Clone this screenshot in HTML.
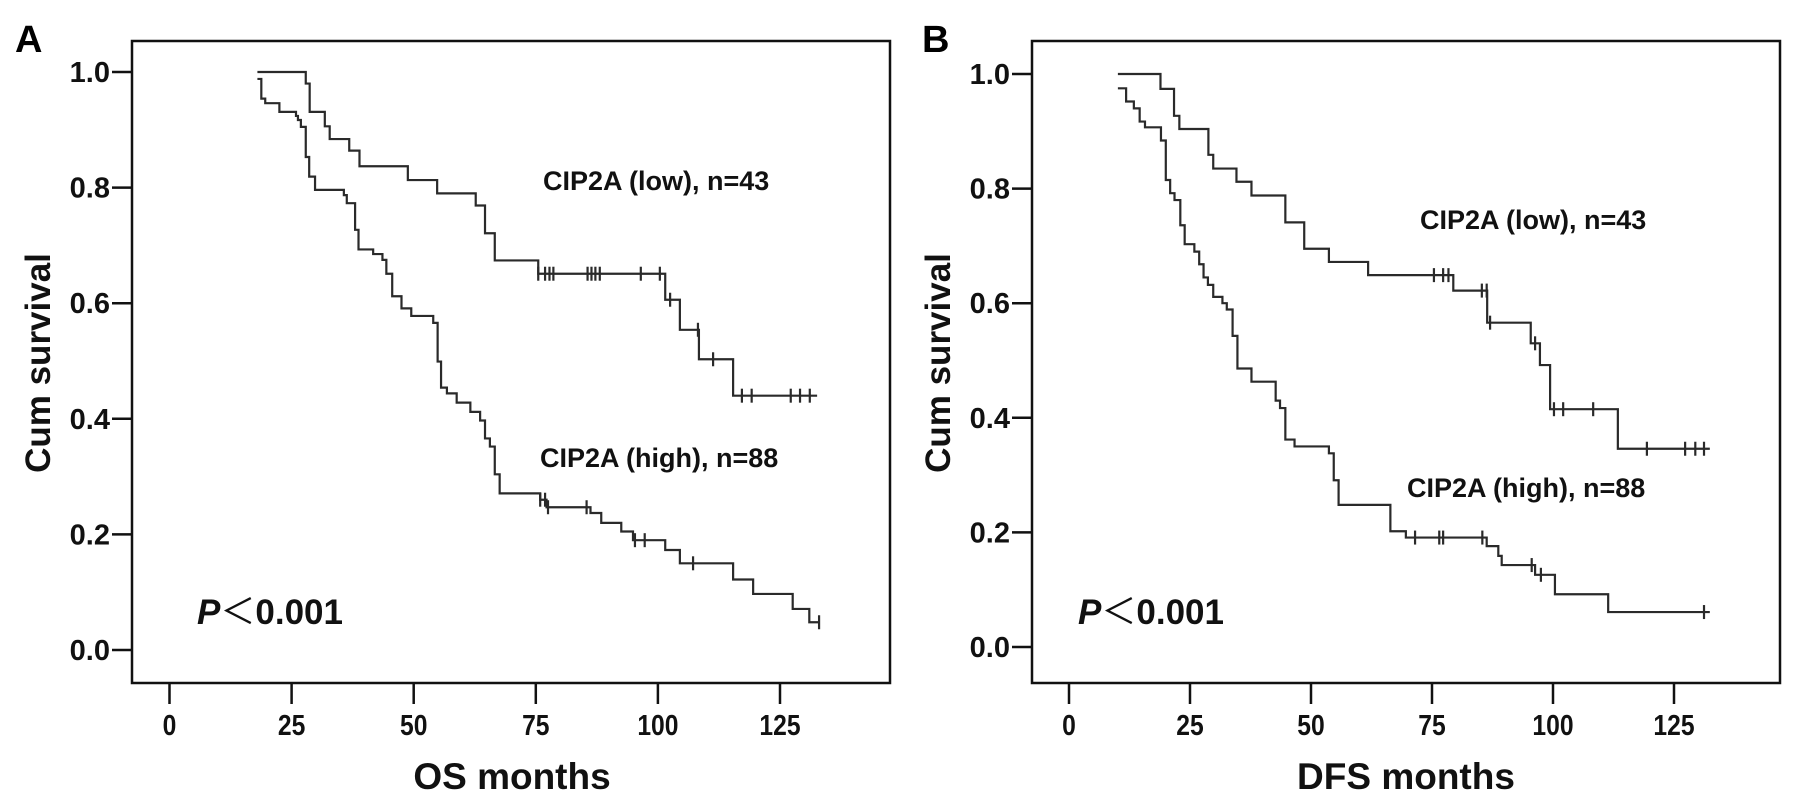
<!DOCTYPE html>
<html><head><meta charset="utf-8"><style>
html,body{margin:0;padding:0;background:#fff;}
svg{display:block;font-family:"Liberation Sans","Noto Sans CJK SC",sans-serif;font-weight:bold;}
</style></head><body>
<svg id="chart" width="1795" height="800" viewBox="0 0 1795 800" xmlns="http://www.w3.org/2000/svg">
<rect x="0" y="0" width="1795" height="800" fill="#fff"/>
<g id="panelA"></g>
<g id="panelB"></g>
</svg>
<script>
const xTicks = [0, 25, 50, 75, 100, 125];
const yTicks = [0.0, 0.2, 0.4, 0.6, 0.8, 1.0];
const yTickLabels = ["0.0", "0.2", "0.4", "0.6", "0.8", "1.0"];

const aLowTimes = [18, 27.9, 28.7, 31.8, 32.8, 36.8, 38.9, 48.8, 54.8, 62.7, 64.6, 66.6, 75.5, 101.5, 104.5, 108.4, 115.4];
const aLowSurv = [1, .980, .931, .906, .884, .864, .837, .813, .790, .769, .721, .674, .651, .606, .554, .503, .44];
const aLowCensor = [75.5, 76.9, 77.8, 78.6, 85.6, 86.4, 87.2, 88.1, 96.5, 100.4, 102.5, 108.2, 111.3, 117.2, 119.2, 127.2, 129.1, 131.1];
const aLowEnd = 132.6;

const aHighTimes = [18, 18.8, 19.6, 22.5, 25.9, 26.3, 26.9, 27.9, 28.6, 29.8, 35.7, 36.3, 38, 38.7, 41.7, 43.6, 44.4, 45.6, 47.5, 49.5, 54, 54.9, 55.6, 56.8, 58.8, 61.6, 63.6, 64.6, 65.6, 66.6, 67.6, 75.9, 77.2, 86.2, 88.4, 92.5, 94.9, 101.5, 104.5, 115.4, 119.5, 127.6, 131];
const aHighSurv = [.988, .954, .946, .931, .924, .917, .905, .853, .819, .796, .787, .773, .727, .693, .685, .675, .651, .612, .591, .578, .566, .499, .454, .444, .428, .412, .397, .366, .352, .304, .271, .260, .247, .237, .220, .205, .190, .173, .150, .122, .097, .071, .048];
const aHighCensor = [75.9, 76.9, 77.5, 85.4, 95.3, 97.3, 107.2, 133];
const aHighEnd = 133;

const bLowTimes = [10.1, 18.9, 21.7, 22.8, 28.8, 29.8, 34.6, 37.7, 44.7, 48.6, 53.7, 61.8, 79.4, 86.4, 95.4, 97.3, 99.4, 113.4];
const bLowSurv = [1, .974, .927, .904, .859, .835, .812, .788, .741, .695, .672, .649, .622, .566, .530, .492, .415, .346];
const bLowCensor = [75.4, 77.3, 78.4, 85.3, 86.3, 87, 96.3, 100.2, 102.1, 108.3, 119.4, 127.3, 129.4, 131.2];
const bLowEnd = 132.4;

const bHighTimes = [10.1, 11.8, 13.4, 14.6, 15.7, 19.0, 20.0, 20.9, 21.8, 23.0, 23.9, 25.9, 26.9, 27.8, 28.7, 29.8, 31.7, 32.6, 33.8, 34.8, 37.7, 42.7, 43.6, 44.7, 46.6, 53.7, 54.7, 55.7, 66.4, 69.6, 86.3, 88.7, 89.4, 96.3, 100.4, 111.4];
const bHighSurv = [.975, .952, .940, .917, .907, .884, .815, .792, .780, .736, .703, .690, .668, .645, .632, .611, .600, .589, .543, .486, .463, .430, .417, .362, .350, .338, .291, .248, .202, .191, .176, .159, .143, .126, .092, .061];
const bHighCensor = [71.5, 76.5, 77.3, 85.4, 95.6, 97.5, 131.2];
const bHighEnd = 132.4;

const NS = "http://www.w3.org/2000/svg";
function mk(parent, tag, attrs, text) {
  const e = document.createElementNS(NS, tag);
  for (const k in attrs) e.setAttribute(k, attrs[k]);
  if (text !== undefined) e.textContent = text;
  parent.appendChild(e);
  return e;
}
function survAt(times, surv, t) {
  let s = surv[0];
  for (let i = 0; i < times.length; i++) if (times[i] <= t) s = surv[i];
  return s;
}

function drawPanel(g, cfg) {
  const X = m => cfg.x0 + m * cfg.pxPerMonth;
  const Y = s => cfg.y0 - s * (cfg.y0 - cfg.y1);
  const box = mk(g, "rect", {x: cfg.left, y: cfg.top, width: cfg.right - cfg.left, height: cfg.bottom - cfg.top, fill: "none", stroke: "#111", "stroke-width": 2.5});
  
  
  const letter = mk(g, "text", {x: cfg.letterX, y: 52, "font-size": 38, fill: "#000"}, cfg.letter);
  
  
  yTicks.forEach((v, i) => {
    const tk = mk(g, "line", {x1: cfg.left - 20, x2: cfg.left, y1: Y(v), y2: Y(v), stroke: "#111", "stroke-width": 2.5});
    
    
    const lb = mk(g, "text", {x: cfg.left - 22, y: Y(v) + 10, "font-size": 29, "text-anchor": "end", fill: "#111"}, yTickLabels[i]);
    
    
  });
  xTicks.forEach(v => {
    const tk = mk(g, "line", {x1: X(v), x2: X(v), y1: cfg.bottom, y2: cfg.bottom + 21, stroke: "#111", "stroke-width": 2.5});
    
    
    const lb = mk(g, "text", {x: X(v), y: 735, "font-size": 29, "text-anchor": "middle", fill: "#111", transform: `translate(${X(v)},0) scale(0.85,1) translate(${-X(v)},0)`}, String(v));
    
    
  });
  const yt = mk(g, "text", {x: 0, y: 0, "font-size": 35, "text-anchor": "middle", fill: "#111", transform: `translate(${cfg.left - 82},363) rotate(-90)`}, "Cum survival");
  
  
  const xt = mk(g, "text", {x: cfg.xTitleX, y: 789, "font-size": 37, "text-anchor": "middle", fill: "#111", "xml:space": "preserve"}, cfg.xTitle);
  
  

  cfg.series.forEach(sr => {
    let d = `M${X(sr.times[0])},${Y(sr.surv[0])}`;
    for (let i = 1; i < sr.times.length; i++) d += ` H${X(sr.times[i])} V${Y(sr.surv[i])}`;
    d += ` H${X(sr.end)}`;
    const p = mk(g, "path", {d: d, fill: "none", stroke: "#2a2a2a", "stroke-width": 2.2});
    
    
    sr.censor.forEach(t => {
      const s = survAt(sr.times, sr.surv, t);
      const c = mk(g, "line", {x1: X(t), x2: X(t), y1: Y(s) - 7, y2: Y(s) + 7, stroke: "#2a2a2a", "stroke-width": 2.2});
      
      
    });
  });
  cfg.labels.forEach(l => {
    const t = mk(g, "text", {x: l.x, y: l.y, "font-size": 27, fill: "#111"}, l.text);
    
    
  });
  const pt = mk(g, "text", {x: cfg.pX, y: 624, "font-size": 35, fill: "#111"});
  
  
  mk(pt, "tspan", {"font-style": "italic"}, "P");
  mk(pt, "tspan", {"font-weight": "normal", "font-family": "Noto Sans CJK SC, sans-serif"}, "＜");
  mk(pt, "tspan", {}, "0.001");
}

drawPanel(document.getElementById("panelA"), {
  left: 132, right: 890, top: 41, bottom: 683,
  x0: 169.5, pxPerMonth: 4.884, y0: 650, y1: 72,
  letter: "A", letterX: 15, xTitle: "OS  months", xTitleX: 512, pX: 197,
  series: [
    {name: "low", times: aLowTimes, surv: aLowSurv, censor: aLowCensor, end: aLowEnd},
    {name: "high", times: aHighTimes, surv: aHighSurv, censor: aHighCensor, end: aHighEnd}
  ],
  labels: [
    {text: "CIP2A (low), n=43", x: 543, y: 190, name: "low-group-label"},
    {text: "CIP2A (high), n=88", x: 540, y: 467, name: "high-group-label"}
  ]
});
drawPanel(document.getElementById("panelB"), {
  left: 1032, right: 1780, top: 41, bottom: 683,
  x0: 1069, pxPerMonth: 4.84, y0: 647, y1: 74,
  letter: "B", letterX: 922, xTitle: "DFS  months", xTitleX: 1406, pX: 1078,
  series: [
    {name: "low", times: bLowTimes, surv: bLowSurv, censor: bLowCensor, end: bLowEnd},
    {name: "high", times: bHighTimes, surv: bHighSurv, censor: bHighCensor, end: bHighEnd}
  ],
  labels: [
    {text: "CIP2A (low), n=43", x: 1420, y: 229, name: "low-group-label"},
    {text: "CIP2A (high), n=88", x: 1407, y: 497, name: "high-group-label"}
  ]
});
</script>
</body></html>
